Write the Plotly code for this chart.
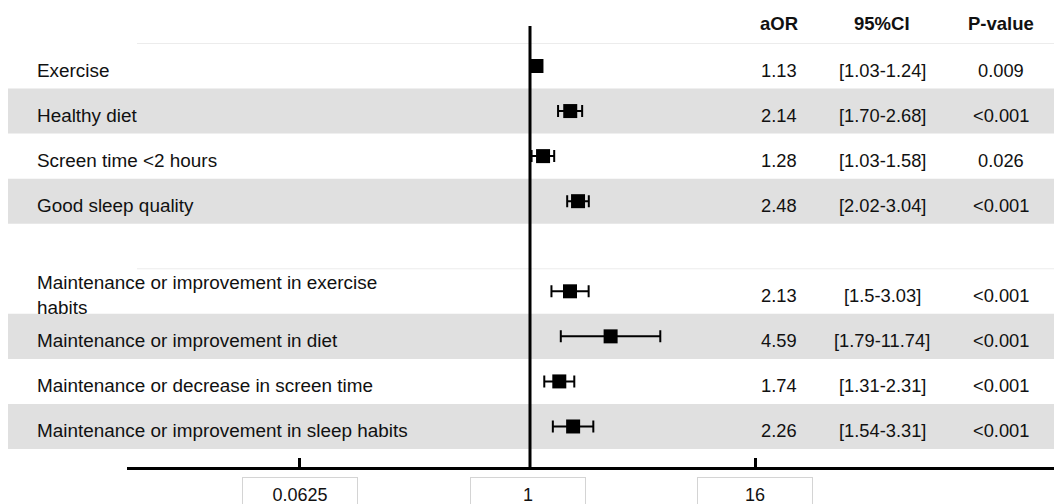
import math
import plotly.graph_objects as go

# ---------------- data ----------------
labels = [
    "Exercise",
    "Healthy diet",
    "Screen time <2 hours",
    "Good sleep quality",
    "Maintenance or improvement in exercise<br>habits",
    "Maintenance or improvement in diet",
    "Maintenance or decrease in screen time",
    "Maintenance or improvement in sleep habits",
]
groups = [1, 1, 1, 1, 2, 2, 2, 2]
aor = [1.13, 2.14, 1.28, 2.48, 2.13, 4.59, 1.74, 2.26]
ci_low = [1.03, 1.70, 1.03, 2.02, 1.5, 1.79, 1.31, 1.54]
ci_high = [1.24, 2.68, 1.58, 3.04, 3.03, 11.74, 2.31, 3.31]
aor_text = ["1.13", "2.14", "1.28", "2.48", "2.13", "4.59", "1.74", "2.26"]
ci_text = ["[1.03-1.24]", "[1.70-2.68]", "[1.03-1.58]", "[2.02-3.04]",
           "[1.5-3.03]", "[1.79-11.74]", "[1.31-2.31]", "[1.54-3.31]"]
p_text = ["0.009", "<0.001", "0.026", "<0.001",
          "<0.001", "<0.001", "<0.001", "<0.001"]
headers = ["aOR", "95%CI", "P-value"]
tick_vals = [0.0625, 1, 16]
tick_text = ["0.0625", "1", "16"]

# ---------------- layout helpers ----------------
OFF = 8                      # page body margin around the plot div
W, H = 1062 - OFF, 504 - OFF  # figure size so it fits the window exactly
FONT = "Liberation Sans, Arial, sans-serif"


def px_x(p):
    return (p - OFF) / W


def px_y(p):
    return 1 - (p - OFF) / H


rows = [i + (g - 1) for i, g in enumerate(groups)]   # blank row between groups
within = [sum(1 for j in range(i) if groups[j] == groups[i]) for i in range(len(groups))]

row0_px, row_step = 66.0, 45.06
y_top = (OFF - row0_px) / row_step
y_bot = (OFF + H - row0_px) / row_step

one_px, dec_px = 530.0, 121.8            # marker scale
x_range = [(OFF - one_px) / dec_px, (OFF + W - one_px) / dec_px]

ax_left, one2_px, dec2_px = 127.0, 527.5, 189.0   # drawn axis scale
x2_range = [(ax_left - one2_px) / dec2_px, (OFF + W - one2_px) / dec2_px]
axis_pos = px_y(467.5)

fig = go.Figure()

shapes = []
# stripes
for r, w in zip(rows, within):
    if w % 2 == 1:
        shapes.append(dict(type="rect", xref="paper", yref="y",
                           x0=0, x1=1, y0=r - 0.5, y1=r + 0.5,
                           fillcolor="#e0e0e0", line=dict(width=0), layer="below"))
    if w == 0:
        # faint top border of each block
        shapes.append(dict(type="line", xref="paper", yref="y",
                           x0=px_x(137), x1=1, y0=r - 0.5, y1=r - 0.5,
                           line=dict(color="#ececec", width=1), layer="below"))
# reference line at OR = 1
shapes.append(dict(type="line", xref="x", yref="paper", x0=1, x1=1,
                   y0=px_y(26), y1=axis_pos, line=dict(color="black", width=3)))

fig.add_trace(go.Scatter(
    x=aor, y=rows, mode="markers",
    marker=dict(symbol="square", size=14, color="black"),
    error_x=dict(type="data", symmetric=False,
                 array=[h - a for h, a in zip(ci_high, aor)],
                 arrayminus=[a - l for a, l in zip(aor, ci_low)],
                 color="black", thickness=2, width=6),
    showlegend=False, hoverinfo="skip",
))

# helper trace for the drawn axis
fig.add_trace(go.Scatter(
    x=tick_vals, y=[rows[0]] * len(tick_vals), xaxis="x2", yaxis="y",
    mode="markers", marker=dict(opacity=0), showlegend=False, hoverinfo="skip",
))

ann = []
for lab, r in zip(labels, rows):
    ann.append(dict(text=lab, xref="paper", yref="y", x=px_x(35), y=r,
                    xanchor="left", yanchor="middle", yshift=-4, showarrow=False,
                    align="left", font=dict(family=FONT, size=18.9, color="#111")))
col_x = [779, 882, 1001]
for hdr, cx in zip(headers, col_x):
    ann.append(dict(text="<b>%s</b>" % hdr, xref="paper", yref="paper",
                    x=px_x(cx), y=px_y(23), xanchor="center", yanchor="middle",
                    showarrow=False, font=dict(family=FONT, size=18.5, color="#111")))
for cols in zip(aor_text, ci_text, p_text, rows):
    r = cols[3]
    for txt, cx in zip(cols[:3], col_x):
        ann.append(dict(text=txt, xref="paper", yref="y", x=px_x(cx), y=r,
                        xanchor="center", yanchor="middle", yshift=-4,
                        showarrow=False, font=dict(family=FONT, size=18.3, color="#111")))
for v, t in zip(tick_vals, tick_text):
    ann.append(dict(text=t, xref="x2", yref="paper", x=math.log10(v),
                    y=px_y(476.5), xanchor="center", yanchor="top",
                    width=114, height=34, borderpad=0, borderwidth=1,
                    bordercolor="#d4d4d4", bgcolor="white", showarrow=False,
                    font=dict(family=FONT, size=18, color="#111")))

fig.update_layout(
    width=W, height=H,
    margin=dict(l=0, r=0, t=0, b=0),
    paper_bgcolor="white", plot_bgcolor="rgba(0,0,0,0)",
    shapes=shapes, annotations=ann,
    xaxis=dict(type="log", range=x_range, domain=[0, 1], visible=False,
               fixedrange=True),
    xaxis2=dict(type="log", range=x2_range, domain=[px_x(ax_left), 1],
                anchor="free", position=axis_pos,
                showline=True, linecolor="black", linewidth=3,
                showgrid=False, zeroline=False,
                tickmode="array", tickvals=[v for v in tick_vals if v != 1],
                ticks="inside", ticklen=9, tickwidth=3, tickcolor="black",
                showticklabels=False),
    yaxis=dict(range=[y_bot, y_top], domain=[0, 1], visible=False,
               fixedrange=True),
)

fig.write_html("out.html")
